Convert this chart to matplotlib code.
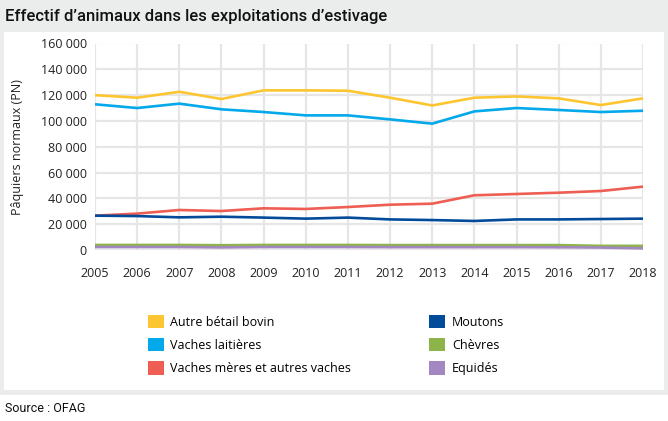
import numpy as np
import matplotlib.pyplot as plt
from matplotlib.patches import Rectangle, Patch

years = np.arange(2005, 2019)
autre_bovin = [120000, 118000, 122600, 117000, 123700, 123700, 123400, 118000, 112000, 118000, 119000, 117500, 112300, 117500]
vaches_lait = [112900, 110000, 113400, 109000, 106900, 104300, 104300, 101200, 97900, 107400, 110000, 108500, 106900, 107900]
vaches_meres = [26600, 28200, 31000, 30200, 32300, 31800, 33300, 35100, 35900, 42400, 43400, 44400, 45700, 49100]
moutons = [26600, 26300, 25300, 25800, 25100, 24300, 25100, 23700, 23200, 22500, 23700, 23700, 24000, 24300]
chevres = [3900, 3900, 3900, 3700, 3900, 3900, 3900, 3800, 3800, 3800, 3800, 3800, 3200, 3200]
equides = [2300, 2300, 2300, 2000, 2300, 2300, 2300, 2200, 2200, 2200, 2200, 2100, 1900, 1300]

series = [
    ("Autre bétail bovin", autre_bovin, "#fdc530"),
    ("Vaches laitières", vaches_lait, "#03a9eb"),
    ("Vaches mères et autres vaches", vaches_meres, "#ee5e52"),
    ("Moutons", moutons, "#024b9b"),
    ("Chèvres", chevres, "#8cb44a"),
    ("Equidés", equides, "#a486c0"),
]

W, H = 668, 421
fig = plt.figure(figsize=(W / 100, H / 100), dpi=100, facecolor="white")
plt.rcParams['font.family'] = ['Open Sans', 'DejaVu Sans']

# background frames
fig.add_artist(Rectangle((0, 1 - 395 / H), 1, 395 / H, transform=fig.transFigure,
                         facecolor="#ebecec", edgecolor="none", zorder=-3))
fig.add_artist(Rectangle((4 / W, 1 - 390 / H), 660 / W, 358 / H, transform=fig.transFigure,
                         facecolor="white", edgecolor="none", zorder=-2))

ax = fig.add_axes([95 / W, 1 - 250 / H, 548 / W, 206.5 / H])
ax.set_facecolor("none")
for name, vals, col in series:
    ax.plot(years, vals, color=col, lw=1.9, label=name, solid_capstyle="butt")

ax.set_xlim(2005, 2018)
ax.set_ylim(0, 160000)
ax.set_xticks(years)
ax.set_yticks(np.arange(0, 160001, 20000))
ax.set_yticklabels([f"{v:,}".replace(",", " ") for v in range(0, 160001, 20000)])
ax.grid(True, color="#e6e6e6", lw=1.6)
ax.set_axisbelow(True)
for s in ax.spines.values():
    s.set_visible(False)
ax.tick_params(length=0, labelsize=9, colors="#222222", pad=6)
ax.tick_params(axis="x", pad=12)
ax.set_ylabel("Pâquiers normaux (PN)", fontsize=9, color="#222222")
ax.yaxis.set_label_coords(-71 / 548, 0.5)

handles = [Patch(facecolor=c, edgecolor="none") for _, _, c in series]
labels = [n for n, _, _ in series]
fig.legend(handles, labels, ncol=2, loc="center", bbox_to_anchor=(326 / W, 1 - 345 / H),
           frameon=False, fontsize=9, handlelength=1.25, handleheight=1.25,
           columnspacing=6.25, labelspacing=0.75, handletextpad=0.55)

fig.text(5 / W, 1 - 16 / H, "Effectif d’animaux dans les exploitations d’estivage",
         fontsize=12, va="center", ha="left", color="#111111",
         family=['Roboto', 'DejaVu Sans'], weight="medium")
fig.text(5 / W, 1 - 409 / H, "Source : OFAG", fontsize=9, va="center", ha="left",
         color="#111111", family=['Roboto', 'DejaVu Sans'])

fig.savefig("out.png", dpi=100, facecolor="white")
